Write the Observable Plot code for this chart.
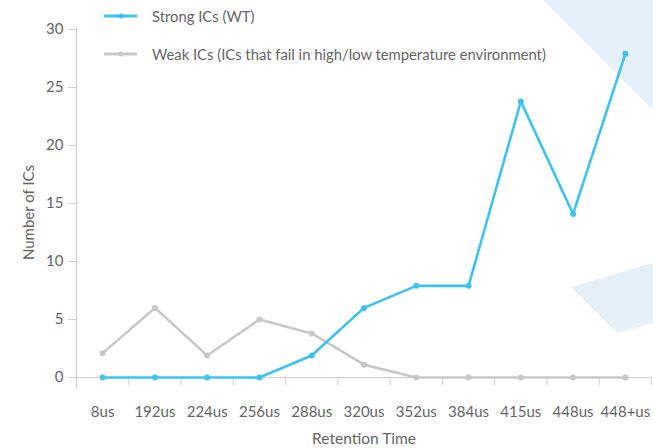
<!DOCTYPE html>
<html>
<head>
<meta charset="utf-8">
<script src="https://cdn.jsdelivr.net/npm/d3@7"></script>
<script src="https://cdn.jsdelivr.net/npm/@observablehq/plot@0.6"></script>
<style>
  html, body { margin: 0; padding: 0; background: #fff; }
  #wrap { position: relative; width: 653px; height: 448px; overflow: hidden; font-family: Lato, "Open Sans", sans-serif; }
  .deco { position: absolute; left: 0; top: 0; width: 653px; height: 448px; z-index: 0; }
  #chart { position: absolute; left: 0; top: 0; z-index: 1; }
  #chart svg { background: transparent !important; }
  .legend { position: absolute; z-index: 2; left: 104px; color: #666; font-size: 14.8px; display: flex; align-items: center; white-space: nowrap; }
  .legend svg { margin-right: 14px; }
</style>
</head>
<body>
<div id="wrap">
  <svg class="deco" viewBox="0 0 653 448">
    <polygon points="543,0 653,0 653,110" fill="#e5f0f8"/>
    <polygon points="571,287 653,263 653,323 617,333" fill="#e5f0f8"/>
  </svg>
  <div id="chart"></div>
  <div class="legend" style="top:7px"><svg width="34" height="18"><line x1="0" y1="9" x2="33" y2="9" stroke="#3dc3f0" stroke-width="3"/><circle cx="17" cy="9" r="2.5" fill="#3dc3f0"/></svg><span>Strong ICs (WT)</span></div>
  <div class="legend" style="top:45px"><svg width="34" height="18"><line x1="0" y1="9" x2="33" y2="9" stroke="#c8c8c8" stroke-width="3"/><circle cx="17" cy="9" r="2.5" fill="#c8c8c8"/></svg><span>Weak ICs (ICs that fail in high/low temperature environment)</span></div>
</div>
<script>
const categories = ["8us","192us","224us","256us","288us","320us","352us","384us","415us","448us","448+us"];
const strongICs = [0, 0, 0, 0, 1.9, 6, 7.9, 7.9, 23.8, 14.1, 27.9];
const weakICs = [2.1, 6, 1.9, 5, 3.8, 1.1, 0, 0, 0, 0, 0];
const yTicks = [0, 5, 10, 15, 20, 25, 30];

const strongData = categories.map((c, i) => ({i, v: strongICs[i]}));
const weakData = categories.map((c, i) => ({i, v: weakICs[i]}));
const idx = d3.range(categories.length);
const bounds = d3.range(categories.length + 1).map(i => i - 0.5);

const blue = "#3dc3f0", gray = "#c8c8c8", axisCol = "#d0d0d0", textCol = "#666";

const plot = Plot.plot({
  width: 653,
  height: 448,
  marginLeft: 76,
  marginRight: 2,
  marginTop: 29,
  marginBottom: 71,
  style: {fontFamily: "Lato, 'Open Sans', sans-serif", fontSize: "15px", color: textCol, background: "transparent"},
  x: {type: "linear", domain: [-0.5, categories.length - 0.5]},
  y: {domain: [0, 30]},
  marks: [
    Plot.ruleY([0], {stroke: axisCol, strokeWidth: 1.2}),
    Plot.ruleX([-0.5], {stroke: axisCol, strokeWidth: 1.2, insetTop: -2, insetBottom: -11}),
    Plot.axisY({ticks: yTicks, tickSize: 8, tickPadding: 5, stroke: axisCol, fill: textCol, fontSize: 15, label: null}),
    Plot.text(["Number of ICs"], {frameAnchor: "left", textAnchor: "middle", dx: -47, dy: 9, rotate: -90, fill: textCol, fontSize: 15}),
    Plot.axisX({ticks: bounds, tickSize: 8, tickFormat: () => "", stroke: axisCol, label: null}),
    Plot.axisX({ticks: idx, tickSize: 0, tickPadding: 29, tickFormat: i => categories[i], fill: textCol, fontSize: 15, label: null}),
    Plot.text(["Retention Time"], {frameAnchor: "bottom", dy: 66, fill: textCol, fontSize: 15.5}),
    Plot.line(weakData, {x: "i", y: "v", stroke: gray, strokeWidth: 2.6}),
    Plot.dot(weakData, {x: "i", y: "v", fill: gray, r: 3}),
    Plot.line(strongData, {x: "i", y: "v", stroke: blue, strokeWidth: 2.6}),
    Plot.dot(strongData, {x: "i", y: "v", fill: blue, r: 3})
  ]
});
document.getElementById("chart").appendChild(plot);
</script>
</body>
</html>
